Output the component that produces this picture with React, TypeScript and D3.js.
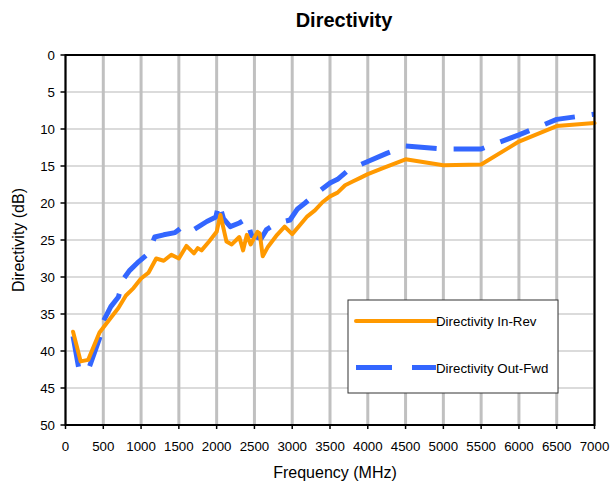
import React from 'react';
import * as d3 from 'd3';

const inRevFreq = [100, 200, 300, 450, 600, 700, 800, 900, 1000, 1100, 1200, 1300, 1400, 1500, 1600, 1700, 1750, 1800, 1900, 2000, 2050, 2130, 2200, 2300, 2350, 2400, 2450, 2540, 2570, 2610, 2680, 2800, 2900, 3000, 3100, 3200, 3300, 3400, 3500, 3600, 3700, 3800, 3900, 4000, 4200, 4500, 5000, 5500, 6000, 6500, 7000];
const inRevDb = [37.4, 41.4, 41.2, 37.5, 35.5, 34.2, 32.5, 31.5, 30.2, 29.4, 27.5, 27.8, 27.0, 27.5, 25.8, 26.8, 26.1, 26.4, 25.2, 23.9, 21.6, 25.2, 25.6, 24.6, 26.4, 24.3, 25.6, 23.9, 24.1, 27.2, 25.9, 24.3, 23.2, 24.2, 23.0, 21.8, 21.0, 19.9, 19.1, 18.6, 17.6, 17.1, 16.6, 16.1, 15.3, 14.1, 14.9, 14.8, 11.7, 9.6, 9.2];

const outFwdFreq = [100, 180, 300, 450, 500, 600, 700, 770, 850, 950, 1100, 1180, 1300, 1450, 1580, 1700, 1870, 1990, 2030, 2090, 2180, 2300, 2400, 2460, 2590, 2660, 2800, 2970, 3070, 3170, 3320, 3500, 3600, 3750, 4000, 4250, 4500, 5000, 5500, 6000, 6500, 7000];
const outFwdDb = [38.0, 42.6, 42.6, 38.3, 36.0, 34.0, 32.7, 30.2, 29.1, 28.1, 26.8, 24.6, 24.3, 24.0, 23.0, 23.6, 22.5, 21.9, 20.0, 22.1, 23.2, 22.7, 22.1, 24.4, 24.8, 23.6, 22.7, 22.3, 20.8, 20.0, 18.7, 17.3, 16.8, 15.5, 14.4, 13.3, 12.3, 12.7, 12.7, 10.8, 8.7, 8.0];

const xTicks = [0, 500, 1000, 1500, 2000, 2500, 3000, 3500, 4000, 4500, 5000, 5500, 6000, 6500, 7000];
const yTicks = [0, 5, 10, 15, 20, 25, 30, 35, 40, 45, 50];

const seriesNames = ['Directivity In-Rev', 'Directivity Out-Fwd'];
const ORANGE = '#FF9900';
const BLUE = '#3366FF';
const FONT = '"Liberation Sans", Arial, sans-serif';

export default function App() {
  const W = 610, H = 485;
  const L = 65.5, R = 594.5, T = 55, B = 425;
  const x = d3.scaleLinear().domain([0, 7000]).range([L, R]);
  const y = d3.scaleLinear().domain([0, 50]).range([T, B]);
  const line = d3.line<[number, number]>().x(d => x(d[0])).y(d => y(d[1]));
  const inRev = inRevFreq.map((f, i) => [f, inRevDb[i]] as [number, number]);
  const outFwd = outFwdFreq.map((f, i) => [f, outFwdDb[i]] as [number, number]);

  const lgX = 348, lgY = 300, lgW = 210, lgH = 93;

  return (
    <svg width={W} height={H} style={{ position: 'absolute', left: 0, top: 0, background: '#fff' }} fontFamily={FONT}>
      <rect x={0} y={0} width={W} height={H} fill="#fff" />
      <text x={344} y={27} textAnchor="middle" fontSize={20} fontWeight="bold" fill="#000">Directivity</text>

      {yTicks.map(t => (
        <line key={'hg' + t} x1={L} x2={R} y1={y(t)} y2={y(t)} stroke="#cfcfcf" strokeWidth={1.5} />
      ))}
      {xTicks.map(t => (
        <line key={'vg' + t} x1={x(t)} x2={x(t)} y1={T} y2={B} stroke="#c0c0c0" strokeWidth={3} />
      ))}

      <path d={line(outFwd) || ''} fill="none" stroke={BLUE} strokeWidth={5} strokeDasharray="31,17" strokeLinejoin="round" />
      <path d={line(inRev) || ''} fill="none" stroke={ORANGE} strokeWidth={4} strokeLinejoin="round" strokeLinecap="round" />

      <rect x={L} y={T} width={R - L} height={B - T} fill="none" stroke="#000" strokeWidth={2} />

      {yTicks.map(t => (
        <g key={'yt' + t}>
          <line x1={L - 5} x2={L} y1={y(t)} y2={y(t)} stroke="#000" strokeWidth={1.5} />
          <text x={55} y={y(t)} dy="0.35em" textAnchor="end" fontSize={13.3} fill="#000">{t}</text>
        </g>
      ))}
      {xTicks.map(t => (
        <g key={'xt' + t}>
          <line x1={x(t)} x2={x(t)} y1={B} y2={B + 4} stroke="#000" strokeWidth={1.5} />
          <text x={x(t)} y={451} textAnchor="middle" fontSize={13.3} fill="#000">{t}</text>
        </g>
      ))}

      <text x={335} y={478} textAnchor="middle" fontSize={16} fill="#000">Frequency (MHz)</text>
      <text transform={`translate(24,240) rotate(-90)`} textAnchor="middle" fontSize={16} fill="#000">Directivity (dB)</text>

      <rect x={lgX} y={lgY} width={lgW} height={lgH} fill="#fff" stroke="#333" strokeWidth={1} />
      <line x1={356} x2={436} y1={321} y2={321} stroke={ORANGE} strokeWidth={4} strokeLinecap="round" />
      <text x={436} y={326} fontSize={13.3} fill="#000">{seriesNames[0]}</text>
      <line x1={356} x2={436} y1={367.5} y2={367.5} stroke={BLUE} strokeWidth={5} strokeDasharray="36,20" />
      <text x={436} y={372.5} fontSize={13.3} fill="#000">{seriesNames[1]}</text>
    </svg>
  );
}
